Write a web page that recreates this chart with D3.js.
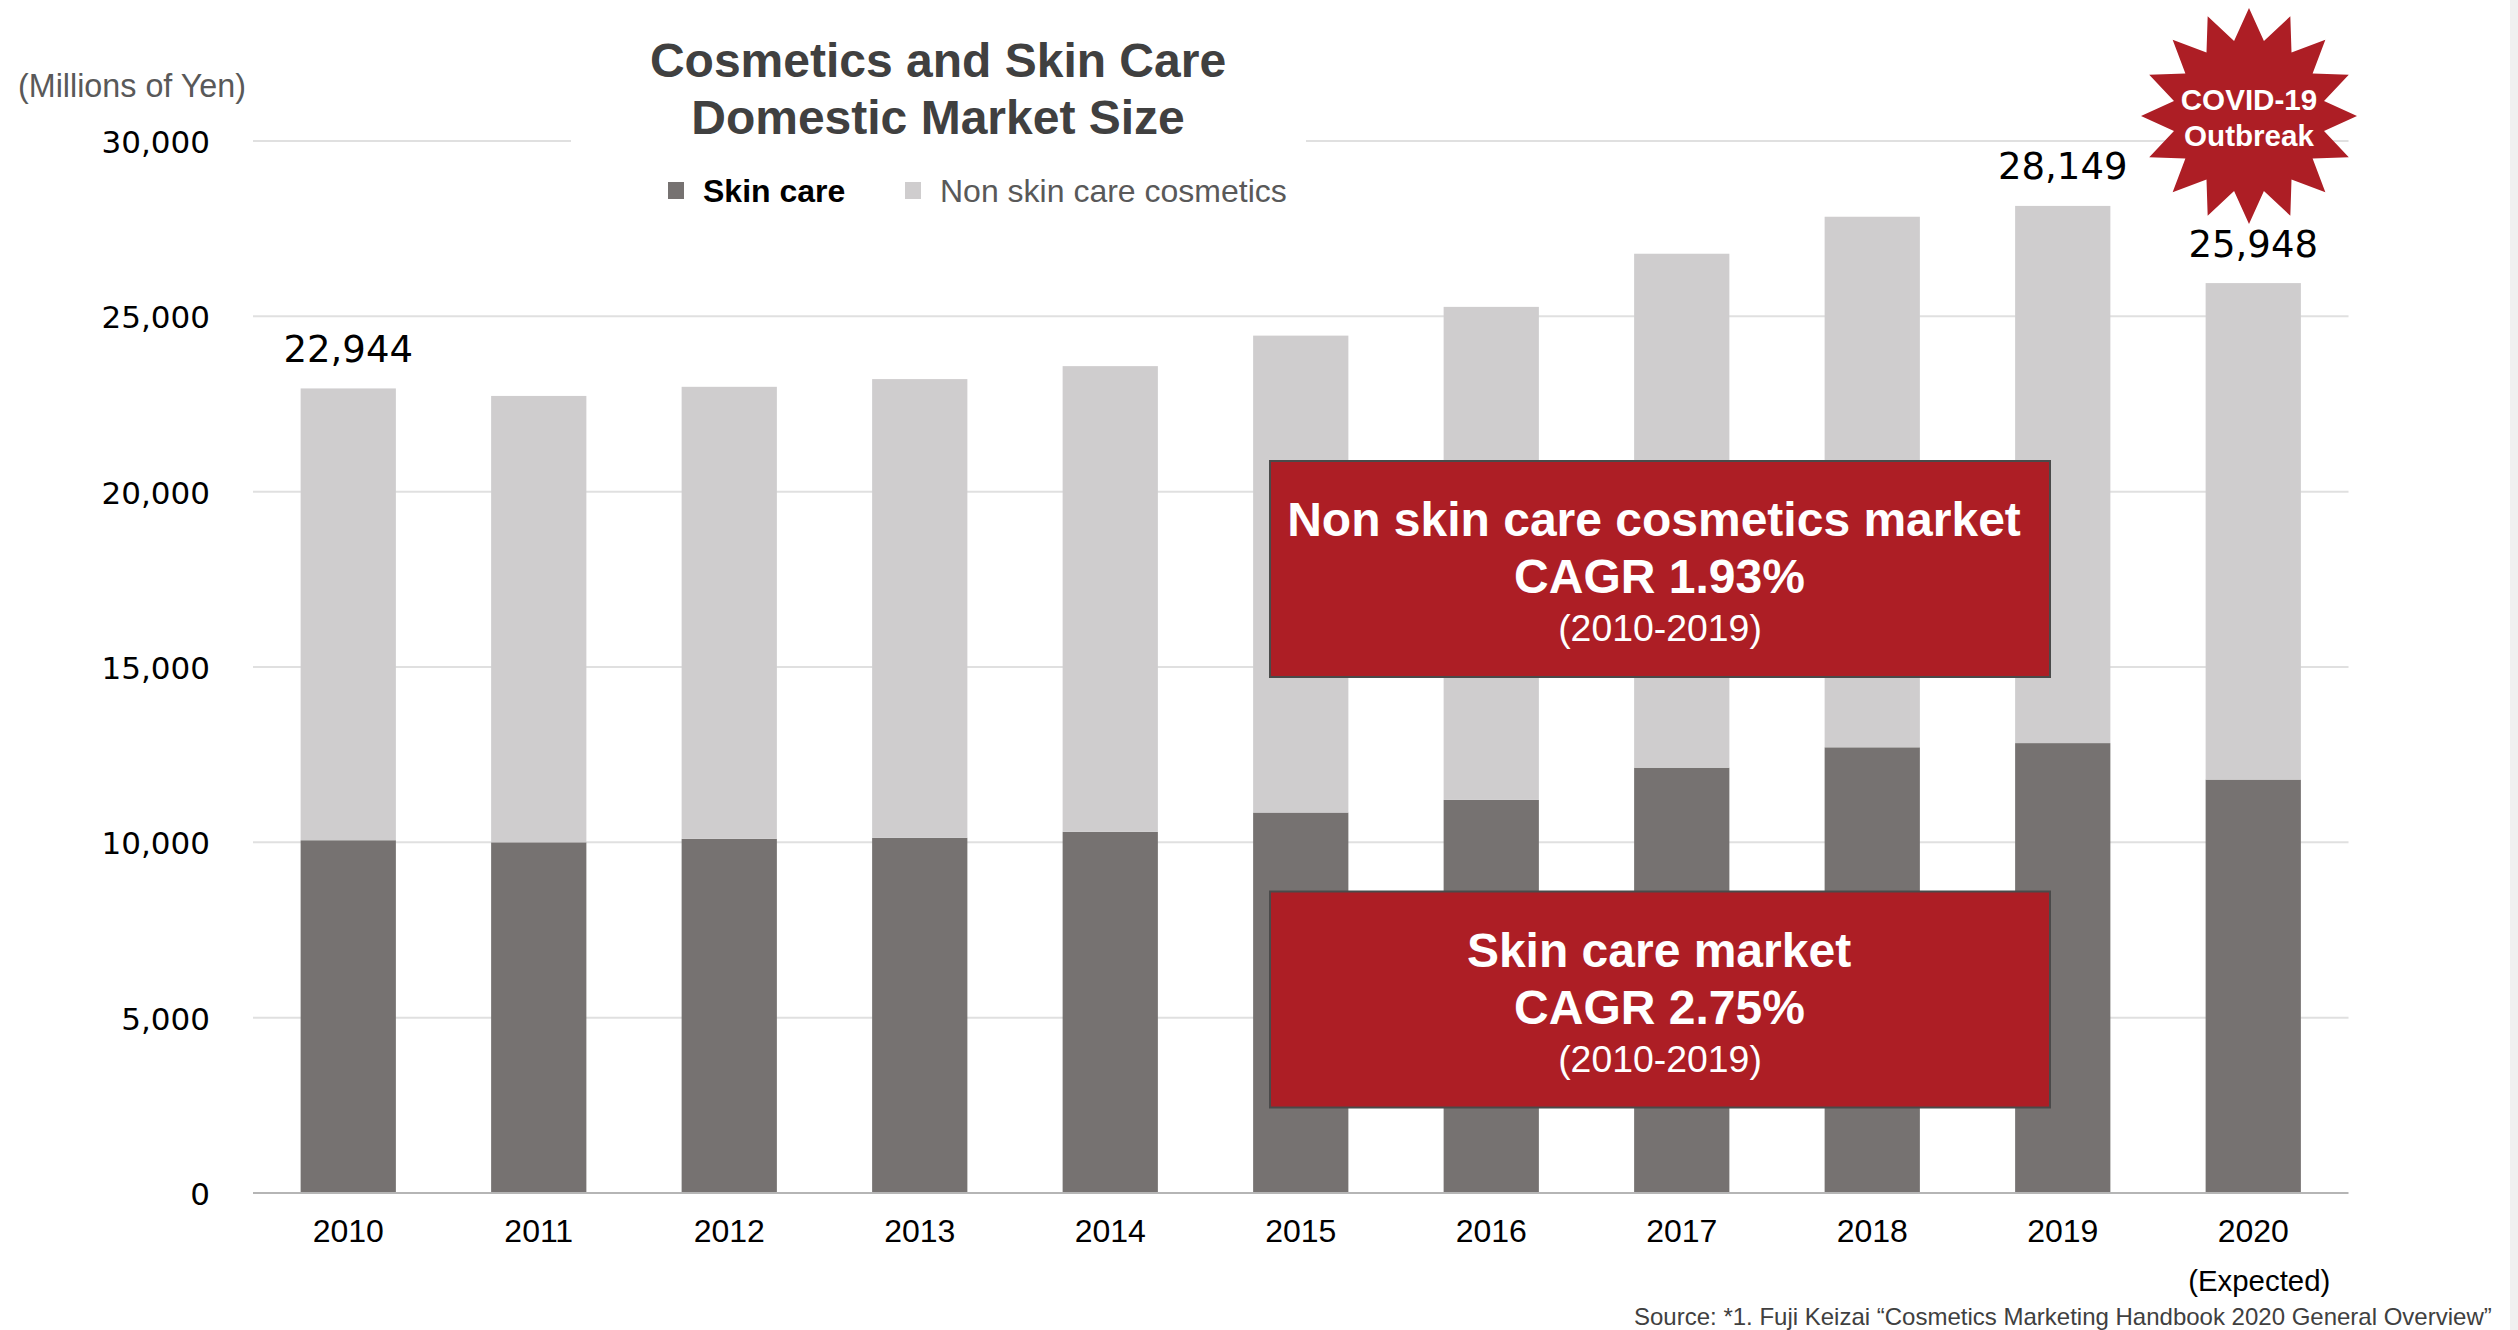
<!DOCTYPE html>
<html lang="en">
<head>
<meta charset="utf-8">
<title>Cosmetics and Skin Care Domestic Market Size</title>
<script src="https://cdn.jsdelivr.net/npm/d3@7/dist/d3.min.js"></script>
<style>
  html, body { margin: 0; padding: 0; background: #fff; overflow: hidden; }
  svg { display: block; }
  .sans { font-family: "Liberation Sans", Arial, sans-serif; }
  .tick-num { font-family: "DejaVu Sans", sans-serif; }
</style>
</head>
<body>
<svg id="chart" width="2518" height="1330"></svg>
<script>
// Market size in millions of yen, by year
const years = ["2010","2011","2012","2013","2014","2015","2016","2017","2018","2019","2020"];
const skinCare = [10060, 10000, 10100, 10130, 10300, 10850, 11210, 12130, 12710, 12830, 11790];
const nonSkinCare = [12884, 12730, 12890, 13080, 13280, 13600, 14060, 14655, 15130, 15319, 14158];
const totalLabels = { "2010": "22,944", "2019": "28,149", "2020": "25,948" };
const yTicks = [0, 5000, 10000, 15000, 20000, 25000, 30000];
const seriesNames = ["Skin care", "Non skin care cosmetics"];
const titleLines = ["Cosmetics and Skin Care", "Domestic Market Size"];

const RED = "#AD1E25", DARK = "#767271", LIGHT = "#CFCDCE";

const svg = d3.select("#chart");
const x = d3.scaleBand().domain(years).range([253, 2348.5]).paddingInner(0.5).paddingOuter(0.25);
const y = d3.scaleLinear().domain([0, 30000]).range([1193, 141]);

// Pale strip along the right edge of the page
svg.append("rect").attr("x", 2510).attr("y", 0).attr("width", 8).attr("height", 1330).attr("fill", "#F0F0F0");

// Horizontal gridlines
svg.append("g").selectAll("line")
  .data(yTicks.filter(d => d > 0))
  .join("line")
  .attr("x1", 253).attr("x2", 2348.5)
  .attr("y1", d => y(d)).attr("y2", d => y(d))
  .attr("stroke", "#E0E0E0").attr("stroke-width", 2);

// Title panel interrupts the top gridline
svg.append("rect").attr("x", 571).attr("y", 120).attr("width", 735).attr("height", 40).attr("fill", "#fff");

// Stacked columns
const rows = years.map((year, i) => ({ year, skin: skinCare[i], other: nonSkinCare[i] }));
const stacked = d3.stack().keys(["skin", "other"])(rows);
svg.append("g").selectAll("g")
  .data(stacked)
  .join("g")
  .attr("fill", (d, i) => i === 0 ? DARK : LIGHT)
  .selectAll("rect")
  .data(d => d)
  .join("rect")
  .attr("x", d => x(d.data.year))
  .attr("width", x.bandwidth())
  .attr("y", d => y(d[1]))
  .attr("height", d => y(d[0]) - y(d[1]));

// Baseline
svg.append("line").attr("x1", 253).attr("x2", 2348.5).attr("y1", y(0)).attr("y2", y(0))
  .attr("stroke", "#B5B5B5").attr("stroke-width", 2);

// Value axis labels
svg.append("g").selectAll("text")
  .data(yTicks)
  .join("text")
  .attr("class", "tick-num")
  .attr("x", 210).attr("y", d => y(d) + 12)
  .attr("text-anchor", "end")
  .attr("font-size", 31).attr("fill", "#000")
  .text(d => d3.format(",")(d));

// Year labels
svg.append("g").selectAll("text")
  .data(years)
  .join("text")
  .attr("class", "sans")
  .attr("x", d => x(d) + x.bandwidth() / 2).attr("y", 1241.5)
  .attr("text-anchor", "middle")
  .attr("font-size", 32).attr("fill", "#000")
  .text(d => d);

svg.append("text").attr("class", "sans")
  .attr("x", x("2020") + x.bandwidth() / 2 + 6).attr("y", 1291)
  .attr("text-anchor", "middle").attr("font-size", 29.4).attr("fill", "#000")
  .text("(Expected)");

// Totals over selected columns
svg.append("g").selectAll("text")
  .data(rows.filter(r => totalLabels[r.year]))
  .join("text")
  .attr("class", "tick-num")
  .attr("x", d => x(d.year) + x.bandwidth() / 2).attr("y", d => y(d.skin + d.other) - 26.5)
  .attr("text-anchor", "middle")
  .attr("font-size", 37).attr("fill", "#000")
  .text(d => totalLabels[d.year]);

// Unit note
svg.append("text").attr("class", "sans")
  .attr("x", 18).attr("y", 96.5).attr("font-size", 32.3).attr("fill", "#595959")
  .text("(Millions of Yen)");

// Title
svg.append("g").selectAll("text")
  .data(titleLines)
  .join("text")
  .attr("class", "sans")
  .attr("x", 938).attr("y", (d, i) => 77 + i * 57)
  .attr("text-anchor", "middle")
  .attr("font-size", 48).attr("font-weight", 700).attr("fill", "#404040")
  .text(d => d);

// Legend
const legendPos = [{ sx: 668, sw: 16, tx: 703 }, { sx: 905, sw: 16, tx: 940 }];
const legend = svg.append("g").selectAll("g").data(seriesNames).join("g");
legend.append("rect")
  .attr("x", (d, i) => legendPos[i].sx).attr("y", 182)
  .attr("width", (d, i) => legendPos[i].sw).attr("height", 17)
  .attr("fill", (d, i) => i === 0 ? DARK : LIGHT);
legend.append("text").attr("class", "sans")
  .attr("x", (d, i) => legendPos[i].tx).attr("y", 202)
  .attr("font-size", 32)
  .attr("font-weight", (d, i) => i === 0 ? 700 : 400)
  .attr("fill", (d, i) => i === 0 ? "#000" : "#595959")
  .text(d => d);

// CAGR callouts
const callouts = [
  { top: 461, bottom: 677, head: "Non skin care cosmetics market", headX: 1654, cagr: "CAGR 1.93%", span: "(2010-2019)" },
  { top: 891.5, bottom: 1107.5, head: "Skin care market", headX: 1659, cagr: "CAGR 2.75%", span: "(2010-2019)" }
];
const call = svg.append("g").selectAll("g").data(callouts).join("g");
call.append("rect")
  .attr("x", 1270).attr("width", 780)
  .attr("y", d => d.top).attr("height", d => d.bottom - d.top)
  .attr("fill", RED).attr("stroke", "#4A4A4A").attr("stroke-width", 2);
const callText = (key, dy, size, weight, cx) => call.append("text").attr("class", "sans")
  .attr("x", cx).attr("y", d => d.top + dy)
  .attr("text-anchor", "middle").attr("fill", "#fff")
  .attr("font-size", size).attr("font-weight", weight)
  .text(d => d[key]);
callText("head", 75, 48, 700, d => d.headX);
callText("cagr", 132, 48, 700, 1659.5);
callText("span", 180, 37.4, 400, 1660);

// Outbreak burst
const burstPoints = d3.range(32).map(i => [i * Math.PI / 16, i % 2 === 0 ? 108 : 76.5]);
svg.append("path")
  .attr("transform", "translate(2249,116)")
  .attr("d", d3.lineRadial().curve(d3.curveLinearClosed)(burstPoints))
  .attr("fill", RED);
svg.append("g").selectAll("text")
  .data(["COVID-19", "Outbreak"])
  .join("text")
  .attr("class", "sans")
  .attr("x", 2249).attr("y", (d, i) => 110 + i * 36)
  .attr("text-anchor", "middle").attr("fill", "#fff")
  .attr("font-size", 29.6).attr("font-weight", 700)
  .text(d => d);

// Source note
svg.append("text").attr("class", "sans")
  .attr("x", 1634).attr("y", 1325).attr("font-size", 24).attr("fill", "#404040")
  .text("Source: *1. Fuji Keizai “Cosmetics Marketing Handbook 2020 General Overview”");
</script>
</body>
</html>
